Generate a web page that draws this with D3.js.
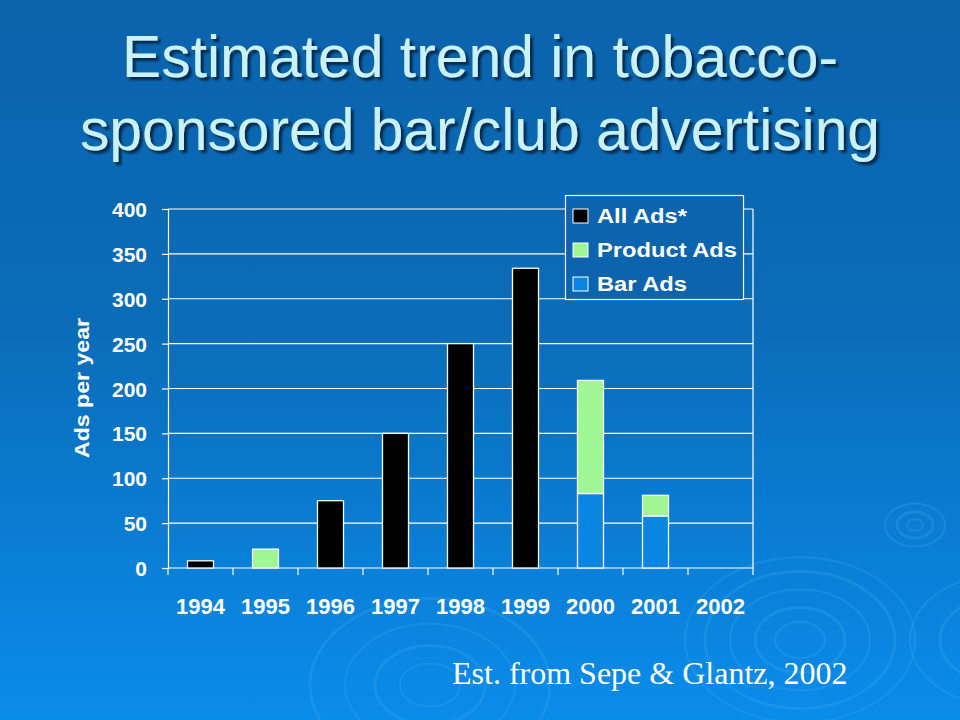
<!DOCTYPE html>
<html><head><meta charset="utf-8">
<script src="https://cdn.jsdelivr.net/npm/d3@7"></script>
<style>html,body{margin:0;padding:0;background:#0b64ad;}svg{display:block;}</style>
</head><body>
<svg id="c" width="960" height="720"></svg>
<script>
const years = ["1994","1995","1996","1997","1998","1999","2000","2001","2002"];
const allAds = [8, 0, 75, 150, 250, 334, 0, 0, 0];
const productAds = [0, 21, 0, 0, 0, 0, 126, 23, 0];
const barAds = [0, 0, 0, 0, 0, 0, 83, 58, 0];
const yTicks = [0, 50, 100, 150, 200, 250, 300, 350, 400];
const legendLabels = ["All Ads*", "Product Ads", "Bar Ads"];
const colors = {all: "#000000", product: "#a0f594", bar: "#0a86e2"};

(function(){
const svg = d3.select("#c");
const defs = svg.append("defs");
const g1 = defs.append("linearGradient").attr("id","bg").attr("x1",0).attr("y1",0).attr("x2",0).attr("y2",1);
g1.append("stop").attr("offset","0%").attr("stop-color","#0b63ab");
g1.append("stop").attr("offset","45%").attr("stop-color","#0a6cb8");
g1.append("stop").attr("offset","100%").attr("stop-color","#0a8ceb");
const f = defs.append("filter").attr("id","sh").attr("x","-5%").attr("y","-20%").attr("width","110%").attr("height","140%");
f.append("feDropShadow").attr("dx",3).attr("dy",3).attr("stdDeviation",0.8).attr("flood-color","#04203a").attr("flood-opacity",0.85);
svg.append("rect").attr("width",960).attr("height",720).attr("fill","url(#bg)");

// ripples
const ripples = svg.append("g").attr("fill","none").attr("stroke","#3aa6f0").attr("stroke-opacity",0.3);
[[800,640,[25,45,70,95,115]],[915,525,[8,18,30]],[430,685,[30,55,85,120]],[1000,640,[30,60,90]]].forEach(([cx,cy,rs])=>{
  rs.forEach((r,i)=>ripples.append("ellipse").attr("cx",cx).attr("cy",cy).attr("rx",r).attr("ry",r*0.72).attr("stroke-width",i%2?3:2));
});

// title
const title = ["Estimated trend in tobacco-", "sponsored bar/club advertising"];
const tx = [[122,716],[80,800]];
const ty = [77,150];
title.forEach((t,i)=>{
  svg.append("text").attr("x",tx[i][0]).attr("y",ty[i]).attr("textLength",tx[i][1]).attr("lengthAdjust","spacingAndGlyphs")
    .attr("font-family","Liberation Sans, Arial, sans-serif").attr("font-size",60).attr("fill","#c9f1ff").attr("filter","url(#sh)").text(t);
});

const pL = 168, pR = 753, pT = 209, pB = 568;
const x = d3.scaleBand().domain(years).range([pL,pR]).paddingInner(0).paddingOuter(0);
const y = d3.scaleLinear().domain([0,400]).range([pB,pT]);
const bw = x.bandwidth()*0.4;

// gridlines
svg.append("g").selectAll("line").data(yTicks).join("line")
  .attr("x1",pL).attr("x2",pR).attr("y1",d=>y(d)).attr("y2",d=>y(d))
  .attr("stroke","#fff").attr("stroke-width",1.2);
svg.append("line").attr("x1",pR).attr("x2",pR).attr("y1",pT).attr("y2",pB).attr("stroke","#fff").attr("stroke-width",1.2);

// y axis
const ya = svg.append("g").attr("transform",`translate(${pL},0)`).call(d3.axisLeft(y).tickValues(yTicks).tickSize(6).tickPadding(15));
ya.select(".domain").attr("stroke","#fff").attr("stroke-width",1.2);
ya.selectAll(".tick line").attr("stroke","#fff").attr("stroke-width",1.2);
ya.selectAll("text").attr("fill","#fff").attr("font-family","Liberation Sans, Arial, sans-serif").attr("font-weight","bold").attr("font-size",21).attr("dy","0.36em");

// x axis
const xa = svg.append("g").attr("transform",`translate(0,${pB})`).call(d3.axisBottom(x).tickSize(0).tickPadding(30));
xa.select(".domain").remove();
xa.selectAll("text").attr("fill","#fff").attr("font-family","Liberation Sans, Arial, sans-serif").attr("font-weight","bold").attr("font-size",22);
const bounds = years.map(d=>x(d)).concat([pR]);
svg.append("g").selectAll("line").data(bounds).join("line")
  .attr("x1",d=>d).attr("x2",d=>d).attr("y1",pB).attr("y2",pB+7).attr("stroke","#fff").attr("stroke-width",1.2);

// bars
const bars = svg.append("g").attr("stroke","#fff").attr("stroke-width",1.3);
years.forEach((yr,i)=>{
  const bx = x(yr) + (x.bandwidth()-bw)/2;
  let base = 0;
  [[barAds[i],colors.bar],[productAds[i],colors.product],[allAds[i],colors.all]].forEach(([v,c])=>{
    if(v>0){
      bars.append("rect").attr("x",bx).attr("width",bw).attr("y",y(base+v)).attr("height",y(base)-y(base+v)).attr("fill",c);
      base += v;
    }
  });
});

// y title
svg.append("text").attr("transform","translate(89,388) rotate(-90)").attr("text-anchor","middle")
  .attr("textLength",140).attr("lengthAdjust","spacingAndGlyphs")
  .attr("fill","#fff").attr("font-family","Liberation Sans, Arial, sans-serif").attr("font-weight","bold").attr("font-size",20).text("Ads per year");

// legend
const lg = svg.append("g");
lg.append("rect").attr("x",565.5).attr("y",195.5).attr("width",178).attr("height",104).attr("fill","#0b64ad").attr("stroke","#fff").attr("stroke-width",1.2);
const lcol = [colors.all, colors.product, colors.bar];
const lw = [90, 140, 90];
legendLabels.forEach((l,i)=>{
  const cy = 216 + i*34;
  lg.append("rect").attr("x",573).attr("y",cy-7).attr("width",15).attr("height",14).attr("fill",lcol[i]).attr("stroke","#fff").attr("stroke-width",1);
  lg.append("text").attr("x",597).attr("y",cy+7).attr("fill","#fff")
    .attr("textLength",lw[i]).attr("lengthAdjust","spacingAndGlyphs")
    .attr("font-family","Liberation Sans, Arial, sans-serif").attr("font-weight","bold").attr("font-size",20).text(l);
});

// footnote
svg.append("text").attr("x",452).attr("y",684).attr("fill","#fff").attr("font-family","Liberation Serif, Times New Roman, serif").attr("font-size",32).text("Est. from Sepe & Glantz, 2002");
})();
</script>
</body></html>
